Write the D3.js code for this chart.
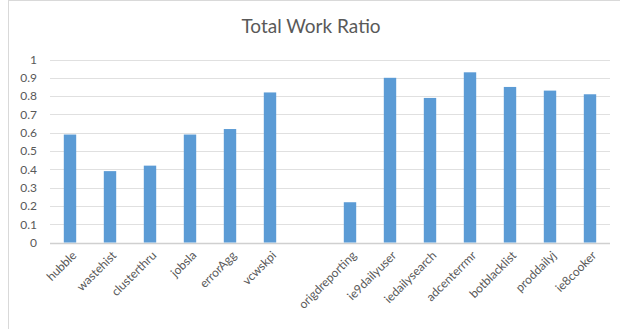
<!DOCTYPE html>
<html>
<head>
<meta charset="utf-8">
<script src="https://cdn.jsdelivr.net/npm/d3@7"></script>
<style>
body { margin: 0; background: #fff; }
svg { display: block; }
</style>
</head>
<body>
<script>
var categories = ['hubble','wastehist','clusterthru','jobsla','errorAgg','vcwskpi','',
  'origdreporting','ie9dailyuser','iedailysearch','adcenterrmr','botblacklist','proddailyj','ie8cooker'];
var ratios = [0.59, 0.39, 0.42, 0.59, 0.62, 0.82, null, 0.22, 0.90, 0.79, 0.93, 0.85, 0.83, 0.81];
var yTicks = [0, 0.1, 0.2, 0.3, 0.4, 0.5, 0.6, 0.7, 0.8, 0.9, 1];
var chartTitle = 'Total Work Ratio';

var W = 620, H = 329;
var plotLeft = 50, plotRight = 610, plotTop = 59.5, plotBottom = 242.5;
var font = "Lato, 'Open Sans', sans-serif";

var svg = d3.select("body").append("svg").attr("width", W).attr("height", H);

// chart border (right/bottom edges fall outside the picture)
svg.append("rect")
  .attr("x", 8.5).attr("y", 0.5)
  .attr("width", W + 10).attr("height", H + 10)
  .attr("fill", "#fff").attr("stroke", "#d9d9d9");

var x = d3.scaleBand().domain(d3.range(categories.length)).range([plotLeft, plotRight])
  .paddingInner(0.69).paddingOuter(0.345);
var y = d3.scaleLinear().domain([0, 1]).range([plotBottom, plotTop]);

svg.append("text")
  .attr("x", 311).attr("y", 33)
  .attr("text-anchor", "middle")
  .attr("font-family", font).attr("font-size", 19)
  .attr("fill", "#595959")
  .text(chartTitle);

// gridlines
svg.selectAll("line.grid")
.data(yTicks)
.enter().append("line")
  .attr("class", "grid")
  .attr("x1", plotLeft).attr("x2", plotRight)
  .attr("y1", function(d){ return Math.round(y(d)) + 0.5; })
  .attr("y2", function(d){ return Math.round(y(d)) + 0.5; })
  .attr("stroke", function(d){ return d === 0 ? "#d0d0d0" : "#e0e0e0"; })
  .attr("stroke-width", function(d){ return d === 0 ? 1.5 : 1; });

// y tick labels
var yAxis = d3.axisLeft(y).tickValues(yTicks).tickSize(0).tickPadding(0)
  .tickFormat(function(d){ return String(+d.toFixed(1)); });
var ya = svg.append("g").attr("transform", "translate(37,0)").call(yAxis);
ya.select(".domain").remove();
ya.selectAll("text")
  .attr("font-family", font).attr("font-size", 12)
  .attr("fill", "#595959");

// bars
var barData = ratios.map(function(v, i){ return { i: i, v: v }; })
  .filter(function(d){ return d.v !== null; });

svg.selectAll("rect.bar")
.data(barData)
.enter().append("rect")
  .attr("class", "bar")
  .attr("x", function(d){ return x(d.i); })
  .attr("y", function(d){ return y(d.v); })
  .attr("width", x.bandwidth())
  .attr("height", function(d){ return y(0) - y(d.v); })
  .attr("fill", "#5b9bd5");

// x labels
svg.selectAll("text.xl")
.data(categories)
.enter().append("text")
  .attr("class", "xl")
  .attr("transform", function(d, i){
    var cx = x(i) + x.bandwidth() / 2 + 5;
    return "translate(" + cx + ",254) rotate(-45)";
  })
  .attr("text-anchor", "end")
  .attr("dominant-baseline", "middle")
  .attr("font-family", font).attr("font-size", 12)
  .attr("fill", "#595959")
  .text(function(d){ return d; });
</script>
</body>
</html>
